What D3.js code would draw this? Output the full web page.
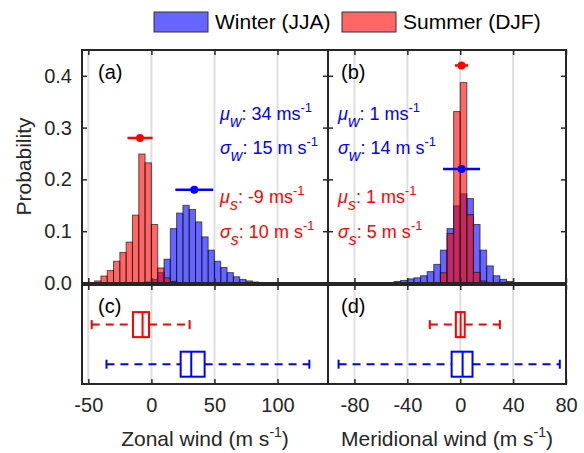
<!DOCTYPE html>
<html>
<head>
<meta charset="utf-8">
<script src="https://cdn.jsdelivr.net/npm/d3@7"></script>
<style>
  html, body { margin: 0; padding: 0; background: #fff; }
  svg { display: block; font-family: "Liberation Sans", Arial, Helvetica, sans-serif; }
</style>
</head>
<body>
<svg id="chart" width="584" height="453"></svg>
<script>
// ---------------- DATA ----------------
const binWidth = 5;
// Zonal wind histogram bins (left edges, m/s)
const zonalBins = [-50,-45,-40,-35,-30,-25,-20,-15,-10,-5,0,5,10,15,20,25,30,35,40,45,50,55,60,65,70,75,80,85,90];
const zonalWinter = [0,0,0,0,0,0,0,0,0.0005,0.002,0.007,0.02,0.046,0.105,0.135,0.150,0.142,0.118,0.089,0.0635,0.042,0.030,0.020,0.012,0.007,0.004,0.002,0.001,0.0005];
const zonalSummer = [0.001,0.004,0.0135,0.024,0.042,0.059,0.079,0.131,0.249,0.232,0.113,0.029,0.010,0.003,0.001,0,0,0,0,0,0,0,0,0,0,0,0,0,0];
// Meridional wind histogram bins (left edges, m/s)
const merBins = [-60,-55,-50,-45,-40,-35,-30,-25,-20,-15,-10,-5,0,5,10,15,20,25,30,35,40,45];
const merWinter = [0.0005,0.001,0.003,0.005,0.008,0.010,0.014,0.022,0.036,0.0635,0.105,0.149,0.172,0.163,0.113,0.0635,0.033,0.014,0.007,0.003,0.001,0.0005];
const merSummer = [0,0,0,0,0,0,0,0,0.001,0.0198,0.0955,0.331,0.387,0.132,0.0205,0.004,0.001,0,0,0,0,0];

// Mean / std markers: [winter, summer]
const seasons = ["Winter (JJA)", "Summer (DJF)"];
const zonalMean = [34, -9];
const zonalStd = [15, 10];
const zonalMarkerY = [0.18, 0.28];
const merMean = [1, 1];
const merStd = [14, 5];
const merMarkerY = [0.22, 0.42];

// Box plot stats: [low whisker, q1, median, q3, high whisker]; index 0 winter, 1 summer
const zonalBox = [[-35.6, 23.2, 31.6, 42.2, 125.2], [-47.3, -14.6, -7, -1.9, 30.3]];
const merBox = [[-92, -6.5, 1.8, 9.3, 75.3], [-23, -3.3, 0.3, 3.4, 30]];
const boxPos = [1, 2]; // winter bottom, summer top

// Ticks
const zonalTicks = [-50, 0, 50, 100];
const merTicks = [-80, -40, 0, 40, 80];
const probTicks = [0, 0.1, 0.2, 0.3, 0.4];

// ---------------- STYLE ----------------
const blue = "#0000ff", red = "#ff0000";
const blueFill = "rgba(0,0,255,0.6)", redFill = "rgba(255,0,0,0.6)";
const axisColor = "#262626";
const gridColor = "#dfdfdf";

const svg = d3.select("#chart");

const histTop = 50, histBottom = 283, boxTop = 285, boxBottom = 384;
const xA = d3.scaleLinear().domain([-55, 140]).range([82, 328]);
const xB = d3.scaleLinear().domain([-100, 80]).range([328, 566]);
const yH = d3.scaleLinear().domain([0, 0.45]).range([histBottom, histBottom - 0.45 * 518]);
const yBox = d3.scaleLinear().domain([0.5, 3]).range([boxBottom, boxTop]);

const defs = svg.append("defs");
function clip(id, x, y, w, h) {
  defs.append("clipPath").attr("id", id).append("rect").attr("x", x).attr("y", y).attr("width", w).attr("height", h);
}

function panelHist(x, ticks, bins, winter, summer, means, stds, markerY, id, showYLabels) {
  const [x0, x1] = x.range();
  clip(id, x0, histTop, x1 - x0, histBottom - histTop);
  const g = svg.append("g");
  g.selectAll(".grid").data(ticks).join("line")
    .attr("x1", d => x(d)).attr("x2", d => x(d))
    .attr("y1", histTop).attr("y2", histBottom)
    .attr("stroke", gridColor).attr("stroke-width", 2);
  const bars = g.append("g").attr("clip-path", `url(#${id})`);
  const draw = (vals, fill) => {
    bars.append("g").selectAll("rect").data(bins.map((b, i) => ({b, v: vals[i]})).filter(d => d.v > 0)).join("rect")
      .attr("x", d => x(d.b)).attr("width", d => x(d.b + binWidth) - x(d.b))
      .attr("y", d => yH(d.v)).attr("height", d => yH(0) - yH(d.v))
      .attr("fill", fill).attr("stroke", "rgba(0,0,0,0.6)").attr("stroke-width", 1);
  };
  draw(winter, blueFill);
  draw(summer, redFill);
  [0, 1].forEach(i => {
    const c = i === 0 ? blue : red;
    g.append("line").attr("x1", x(means[i] - stds[i])).attr("x2", x(means[i] + stds[i]))
      .attr("y1", yH(markerY[i])).attr("y2", yH(markerY[i])).attr("stroke", c).attr("stroke-width", 2.5);
    g.append("circle").attr("cx", x(means[i])).attr("cy", yH(markerY[i])).attr("r", 4).attr("fill", c);
  });
  g.append("g").attr("transform", `translate(0,${histTop})`)
    .call(d3.axisTop(x).tickValues(ticks).tickSizeInner(-5).tickSizeOuter(0).tickFormat(""))
    .call(s => s.select(".domain").remove());
  g.append("g").attr("transform", `translate(0,${histBottom})`)
    .call(d3.axisBottom(x).tickValues(ticks).tickSizeInner(-5).tickSizeOuter(0).tickFormat(""))
    .call(s => s.select(".domain").remove());
  const yl = g.append("g").attr("transform", `translate(${x0},0)`)
    .call(d3.axisLeft(yH).tickValues(probTicks).tickSizeInner(-5).tickSizeOuter(0)
      .tickFormat(showYLabels ? d3.format(".1f") : "").tickPadding(10))
    .call(s => s.select(".domain").remove());
  yl.selectAll("text").attr("font-size", 20).attr("fill", axisColor).attr("font-family", "Liberation Sans, Arial, sans-serif");
  g.append("g").attr("transform", `translate(${x1},0)`)
    .call(d3.axisRight(yH).tickValues(probTicks).tickSizeInner(-5).tickSizeOuter(0).tickFormat(""))
    .call(s => s.select(".domain").remove());
  g.selectAll(".tick line").attr("stroke", axisColor).attr("stroke-width", 1.5);
  g.append("rect").attr("x", x0).attr("y", histTop).attr("width", x1 - x0).attr("height", histBottom - histTop)
    .attr("fill", "none").attr("stroke", axisColor).attr("stroke-width", 2);
}

function panelBox(x, ticks, stats, label) {
  const [x0, x1] = x.range();
  const g = svg.append("g");
  g.selectAll(".grid").data(ticks).join("line")
    .attr("x1", d => x(d)).attr("x2", d => x(d))
    .attr("y1", boxTop).attr("y2", boxBottom)
    .attr("stroke", gridColor).attr("stroke-width", 2);
  const bh = 25, capH = 9;
  [1, 0].forEach(i => {
    const c = i === 0 ? blue : red;
    const [lo, q1, med, q3, hi] = stats[i];
    const yc = yBox(boxPos[i]);
    const bg = g.append("g").attr("stroke", c).attr("stroke-width", 2).attr("fill", "none");
    bg.append("line").attr("x1", x(lo)).attr("x2", x(q1)).attr("y1", yc).attr("y2", yc).attr("stroke-dasharray", "8,6");
    bg.append("line").attr("x1", x(q3)).attr("x2", x(hi)).attr("y1", yc).attr("y2", yc).attr("stroke-dasharray", "8,6");
    bg.append("line").attr("x1", x(lo)).attr("x2", x(lo)).attr("y1", yc - capH / 2).attr("y2", yc + capH / 2);
    bg.append("line").attr("x1", x(hi)).attr("x2", x(hi)).attr("y1", yc - capH / 2).attr("y2", yc + capH / 2);
    bg.append("rect").attr("x", x(q1)).attr("y", yc - bh / 2).attr("width", x(q3) - x(q1)).attr("height", bh).attr("fill", "#fff");
    bg.append("line").attr("x1", x(med)).attr("x2", x(med)).attr("y1", yc - bh / 2).attr("y2", yc + bh / 2);
  });
  g.append("g").attr("transform", `translate(0,${boxTop})`)
    .call(d3.axisTop(x).tickValues(ticks).tickSizeInner(-5).tickSizeOuter(0).tickFormat(""))
    .call(s => s.select(".domain").remove());
  const xb = g.append("g").attr("transform", `translate(0,${boxBottom})`)
    .call(d3.axisBottom(x).tickValues(ticks).tickSizeInner(-5).tickSizeOuter(0).tickFormat(d => String(d)).tickPadding(14))
    .call(s => s.select(".domain").remove());
  xb.selectAll("text").attr("font-size", 20).attr("fill", axisColor).attr("font-family", "Liberation Sans, Arial, sans-serif");
  g.selectAll(".tick line").attr("stroke", axisColor).attr("stroke-width", 1.5);
  g.append("rect").attr("x", x0).attr("y", boxTop).attr("width", x1 - x0).attr("height", boxBottom - boxTop)
    .attr("fill", "none").attr("stroke", axisColor).attr("stroke-width", 2);
  const t = svg.append("text").attr("x", (x0 + x1) / 2).attr("y", 446).attr("text-anchor", "middle")
    .attr("font-size", 21).attr("fill", axisColor);
  t.append("tspan").text(label + " (m s");
  t.append("tspan").attr("font-size", 14).attr("dy", -9).text("-1");
  t.append("tspan").attr("dy", 9).text(")");
}

panelHist(xA, zonalTicks, zonalBins, zonalWinter, zonalSummer, zonalMean, zonalStd, zonalMarkerY, "clipA", true);
panelHist(xB, merTicks, merBins, merWinter, merSummer, merMean, merStd, merMarkerY, "clipB", false);
panelBox(xA, zonalTicks, zonalBox, "Zonal wind");
panelBox(xB, merTicks, merBox, "Meridional wind");

const panelLabels = ["(a)", "(b)", "(c)", "(d)"];
[[98, 79], [341, 79], [98, 313], [341, 313]].forEach((p, i) => {
  svg.append("text").attr("x", p[0]).attr("y", p[1]).attr("font-size", 20).attr("fill", "#000").text(panelLabels[i]);
});

svg.append("text").attr("transform", `translate(31,${(histTop + histBottom) / 2}) rotate(-90)`)
  .attr("text-anchor", "middle").attr("font-size", 21).attr("fill", axisColor).text("Probability");

function stat(x, y, sym, sub, value, units, color) {
  const t = svg.append("text").attr("x", x).attr("y", y).attr("font-size", 18).attr("fill", color);
  t.append("tspan").attr("font-style", "italic").text(sym);
  t.append("tspan").attr("font-style", "italic").attr("font-size", 16).attr("dy", 7).text(sub);
  t.append("tspan").attr("dy", -7).text(": " + value + " " + units);
  t.append("tspan").attr("font-size", 13).attr("dy", -8).text("-1");
}
const annotY = [120, 154, 203, 238];
[[220, zonalMean, zonalStd], [338, merMean, merStd]].forEach(([x0, m, s]) => {
  stat(x0, annotY[0], "\u03bc", "w", m[0], "ms", blue);
  stat(x0, annotY[1], "\u03c3", "w", s[0], "m s", blue);
  stat(x0, annotY[2], "\u03bc", "s", m[1], "ms", red);
  stat(x0, annotY[3], "\u03c3", "s", s[1], "m s", red);
});

const legendX = [154, 342];
seasons.forEach((name, i) => {
  svg.append("rect").attr("x", legendX[i]).attr("y", 12).attr("width", 54).attr("height", 20)
    .attr("fill", i === 0 ? blueFill : redFill).attr("stroke", "#333").attr("stroke-width", 1);
  svg.append("text").attr("x", legendX[i] + 61).attr("y", 29).attr("font-size", 21).attr("fill", "#000").text(name);
});
</script>
</body>
</html>
